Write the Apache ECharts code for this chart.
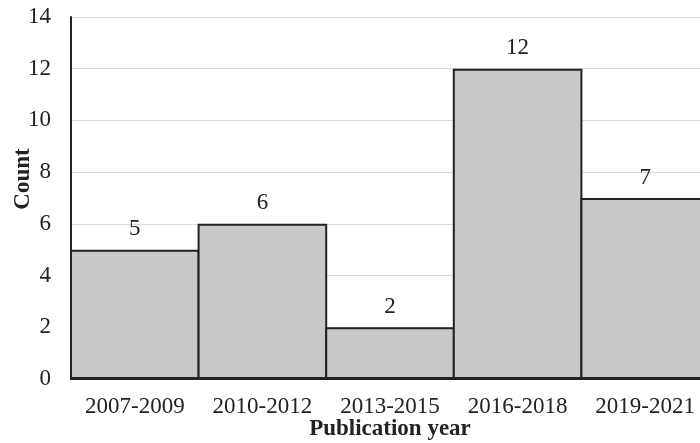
<!DOCTYPE html>
<html>
<head>
<meta charset="utf-8">
<script src="https://cdn.jsdelivr.net/npm/echarts@6/dist/echarts.min.js"></script>
<style>
html,body{margin:0;padding:0;background:#fff;}
#c{width:700px;height:443px;}
</style>
</head>
<body>
<div id="c"></div>
<script>
const categories = ['2007-2009', '2010-2012', '2013-2015', '2016-2018', '2019-2021'];
const counts = [5, 6, 2, 12, 7];
const yTicks = { min: 0, max: 14, interval: 2 };

const chart = echarts.init(document.getElementById('c'), null, { renderer: 'canvas' });
const FONT = '"Liberation Serif", "Times New Roman", serif';
chart.setOption({
  animation: false,
  backgroundColor: '#ffffff',
  grid: { left: 71, top: 17, width: 638, height: 362, containLabel: false, outerBoundsMode: 'none' },
  xAxis: {
    type: 'category',
    data: categories,
    axisLine: { show: true, lineStyle: { color: '#222', width: 2 } },
    axisTick: { show: false },
    axisLabel: { color: '#222', fontFamily: FONT, fontSize: 23, margin: 16, interval: 0 },
    name: 'Publication year',
    nameLocation: 'middle',
    nameGap: 39,
    nameMoveOverlap: false,
    nameTextStyle: { color: '#222', fontFamily: FONT, fontSize: 23, fontWeight: 'bold' }
  },
  yAxis: {
    type: 'value',
    min: yTicks.min, max: yTicks.max, interval: yTicks.interval,
    axisLine: { show: true, lineStyle: { color: '#222', width: 2 } },
    axisTick: { show: false },
    splitLine: { show: true, lineStyle: { color: '#d9d9d9', width: 1 } },
    axisLabel: { color: '#222', fontFamily: FONT, fontSize: 23, margin: 20 }
  },
  graphic: [{
    type: 'text',
    rotation: Math.PI / 2,
    x: 23, y: 179,
    style: { text: 'Count', fill: '#222', font: 'bold 23px ' + FONT, textAlign: 'center', textVerticalAlign: 'middle' }
  }],
  series: [{
    type: 'bar',
    data: counts,
    barCategoryGap: 0,
    barWidth: 129.6,
    itemStyle: { color: '#c8c9cb', borderColor: '#222', borderWidth: 2 },
    label: { show: true, position: 'top', distance: 9, color: '#222', fontFamily: FONT, fontSize: 23 }
  }]
});
</script>
</body>
</html>
